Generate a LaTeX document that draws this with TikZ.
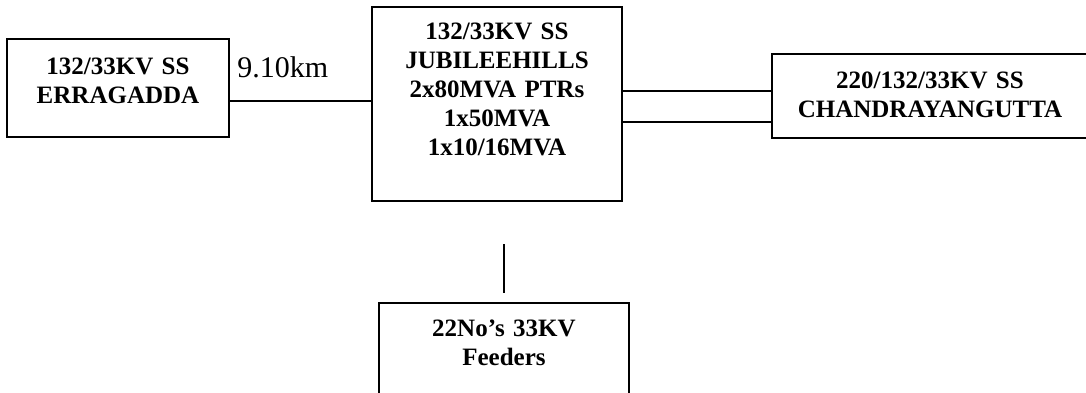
\documentclass[tikz,border=0pt]{standalone}
\usepackage{fontspec}
\setmainfont{Liberation Serif}
\usepackage{tikz}
\usetikzlibrary{calc}
\tikzset{
  ssbox/.style  ={rectangle, draw=black, line width=1pt, inner sep=0pt,
                  align=center, text=black,
                  font=\fontsize{12.5pt}{14.5pt}\selectfont\bfseries},
  feeder/.style ={draw=black, line width=0.75pt},
  distlbl/.style={font=\fontsize{15pt}{18pt}\selectfont, inner sep=0pt, text=black},
}

\begin{document}
\begin{tikzpicture}[x=0.5pt, y=-0.5pt]
  \useasboundingbox (0,0) rectangle (1086,392);
  \clip (0,0) rectangle (1086,392);
  % substations
  \node[ssbox, anchor=north, text width=111pt, text height=17.5pt, text depth=31.5pt]
    (erg) at (118,38) {132/33KV SS\\ERRAGADDA};
  \node[ssbox, anchor=north, text width=125pt, text height=16pt, text depth=81pt]
    (jh) at (497,6) {132/33KV SS\\JUBILEEHILLS\\2x80MVA PTRs\\1x50MVA\\1x10/16MVA};
  \node[ssbox, anchor=north, text width=158pt, text height=17pt, text depth=25pt]
    (ch) at (930,53) {220/132/33KV SS\\CHANDRAYANGUTTA};
  \node[ssbox, anchor=north, text width=125pt, text height=16.5pt, text depth=32.5pt]
    (fd) at (504,302) {22No’s 33KV\\Feeders};
  % lines
  \draw[feeder] ([yshift=-6.5pt]erg.east) coordinate (e1) -- (e1 -| jh.west);
  \node[distlbl, anchor=base west] (dist) at (237,77) {9.10km};
  \draw[feeder] ([yshift=2.5pt]ch.west) coordinate (c1) -- (c1 -| jh.east);
  \draw[feeder] ([yshift=-13pt]ch.west) coordinate (c2) -- (c2 -| jh.east);
  \draw[feeder, shorten <=21pt, shorten >=4.5pt] (fd.north |- jh.south) -- (fd.north);
\end{tikzpicture}
\end{document}
